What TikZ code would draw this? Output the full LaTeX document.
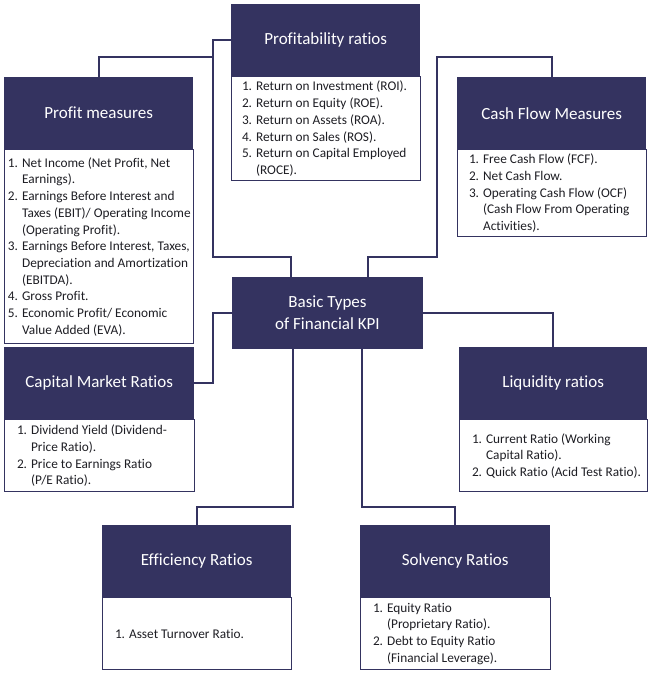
\documentclass[tikz,border=0pt]{standalone}
\usepackage{fontspec}
\setmainfont{Carlito}[Ligatures=NoCommon]
\definecolor{navy}{RGB}{52,51,96}
\definecolor{ink}{RGB}{30,30,36}
\tikzset{
    head/.style={fill=navy,text=white,minimum width=189pt,minimum height=72pt,inner sep=0pt,align=center,font=\fontsize{17}{22}\selectfont},
    frame/.style={draw=navy,line width=0.8pt,fill=white,minimum width=189pt,inner sep=0pt},
    items/.style={text=ink,align=left,inner sep=0pt,anchor=west,font=\fontsize{13.3}{16.7}\selectfont},
    link/.style={draw=navy,line width=1.6pt}
}
\newcommand{\ind}{\phantom{1. }}
\begin{document}
\begin{tikzpicture}[x=1pt,y=-1pt]
        \useasboundingbox (0,0) rectangle (650,673);
        %% Centre
        \node[head,minimum width=191pt] (kpi) at (327.5,313) {Basic Types\\of Financial KPI};
        %% Headers
        \node[head,anchor=north west] (prof) at (231,4) {Profitability ratios};
        \node[head,anchor=north west] (pm) at (4,77) {Profit measures};
        \node[head,anchor=north west] (cf) at (457,77) {Cash Flow Measures};
        \node[head,anchor=north west,minimum width=190pt] (cm) at (4,347) {Capital Market Ratios};
        \node[head,anchor=north west,minimum width=188pt] (lq) at (459,347) {Liquidity ratios};
        \node[head,anchor=north west] (ef) at (102,525) {Efficiency Ratios};
        \node[head,anchor=north west,minimum width=190pt] (sv) at (360,525) {Solvency Ratios};
        %% Bodies
        \node[frame,anchor=north,minimum height=104pt] (profb) at (prof.south) {};
        \node[frame,anchor=north,minimum height=194pt] (pmb) at (pm.south) {};
        \node[frame,anchor=north,minimum height=87pt] (cfb) at (cf.south) {};
        \node[frame,anchor=north,minimum width=190pt,minimum height=72pt] (cmb) at (cm.south) {};
        \node[frame,anchor=north,minimum width=188pt,minimum height=72pt] (lqb) at (lq.south) {};
        \node[frame,anchor=north,minimum height=72pt] (efb) at (ef.south) {};
        \node[frame,anchor=north,minimum width=190pt,minimum height=72pt] (svb) at (sv.south) {};
        %% Lists
        \node[items,xshift=11pt] (proft) at (profb.west) {1. Return on Investment (ROI).\\2. Return on Equity (ROE).\\3. Return on Assets (ROA).\\4. Return on Sales (ROS).\\5. Return on Capital Employed\\\ind(ROCE).};
        \node[items,xshift=4pt] (pmt) at (pmb.west) {1. Net Income (Net Profit, Net\\\ind Earnings).\\2. Earnings Before Interest and\\\ind Taxes (EBIT)/ Operating Income\\\ind(Operating Profit).\\3. Earnings Before Interest, Taxes,\\\ind Depreciation and Amortization\\\ind(EBITDA).\\4. Gross Profit.\\5. Economic Profit/ Economic\\\ind Value Added (EVA).};
        \node[items,xshift=12pt] (cft) at (cfb.west) {1. Free Cash Flow (FCF).\\2. Net Cash Flow.\\3. Operating Cash Flow (OCF)\\\ind(Cash Flow From Operating\\\ind Activities).};
        \node[items,xshift=13pt] (cmt) at (cmb.west) {1. Dividend Yield (Dividend-\\\ind Price Ratio).\\2. Price to Earnings Ratio\\\ind(P/E Ratio).};
        \node[items,xshift=13pt] (lqt) at (lqb.west) {1. Current Ratio (Working\\\ind Capital Ratio).\\2. Quick Ratio (Acid Test Ratio).};
        \node[items,xshift=13pt] (eft) at (efb.west) {1. Asset Turnover Ratio.};
        \node[items,xshift=13pt] (svt) at (svb.west) {1. Equity Ratio\\\ind(Proprietary Ratio).\\2. Debt to Equity Ratio\\\ind(Financial Leverage).};
        %% Connectors
        \coordinate (tl) at (213,57);
        \draw[link] ([xshift=59pt]kpi.north west) -- ++(0,-20) -- ++(-78,0) |- (prof.west);
        \draw[link] (pm.north) |- (tl);
        \draw[link] ([xshift=136pt]kpi.north west) -- ++(0,-20) -- ++(69,0) -- ++(0,-200) -| (cf.north);
        \draw[link] (kpi.west) -- ++(-19,0) |- (cm.east);
        \draw[link] (kpi.east) -| (lq.north);
        \draw[link] ([xshift=61pt]kpi.south west) -- ++(0,158) -| (ef.north);
        \draw[link] ([xshift=130pt]kpi.south west) -- ++(0,158) -| (sv.north);
    \end{tikzpicture}
\end{document}
